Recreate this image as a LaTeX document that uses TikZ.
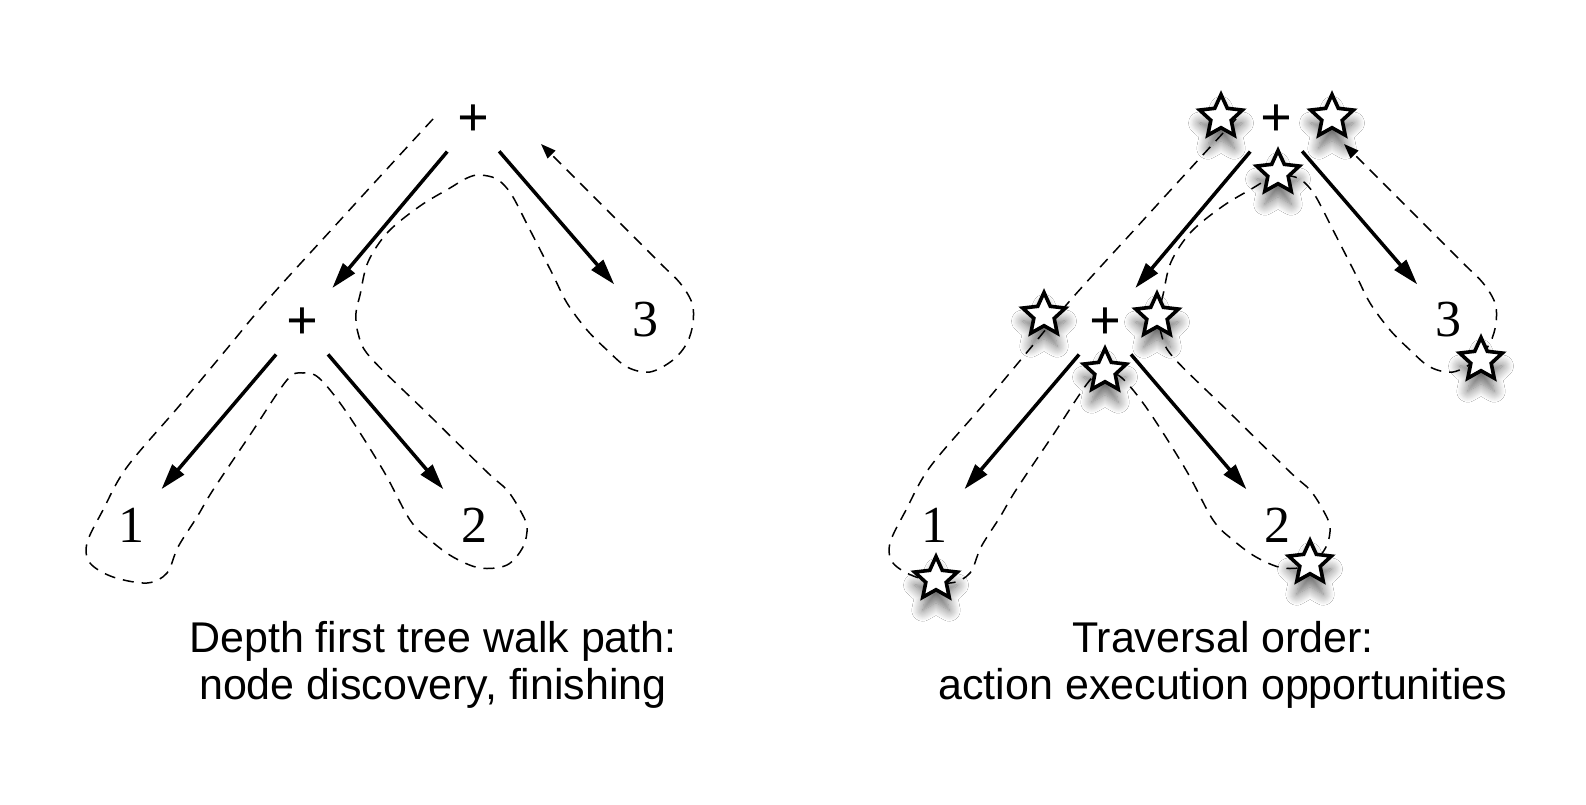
\documentclass[tikz,border=0pt]{standalone}
\usepackage{fontspec}
\setmainfont{Liberation Serif}
\newfontfamily\capfont{Liberation Sans}
\usetikzlibrary{arrows.meta,shapes.geometric,shadows.blur}
\tikzset{
  lbl/.style={font=\fontsize{52}{56}\selectfont, inner sep=0pt, outer sep=0pt},
  op/.style={font=\bfseries\fontsize{56}{60}\selectfont, inner sep=0pt, outer sep=0pt},
  edge/.style={line width=3.5pt, -{Triangle[length=26pt,width=15pt]}, shorten <=40pt, shorten >=47pt},
  walk/.style={line width=1.5pt, dash pattern=on 11pt off 8pt, -{Triangle[length=15pt,width=11pt]}},
  caption/.style={font=\capfont\fontsize{43}{47}\selectfont, align=center, inner sep=0pt},
  act/.style={star, star points=5, star point ratio=2.1, minimum size=45pt, inner sep=0pt,
    draw, line width=3.6pt, fill=white, line join=miter,
    blur shadow={shadow xshift=0pt, shadow yshift=-13pt, shadow blur radius=11pt, shadow blur steps=12, shadow opacity=60}},
}
\begin{document}
\begin{tikzpicture}[x=1pt,y=-1pt]
\useasboundingbox (0,0) rectangle (1586,804);
\fill[white] (0,0) rectangle (1586,804);
% dashed walk paths
\foreach \dx in {0,803}{
\begin{scope}[xshift=\dx pt]
\draw[walk] plot[smooth, tension=0.55] coordinates {
(433,119) (386,170) (333,228) (280,286) (253,317) (230,345) (180,405) (127,467)
(103,510) (87,543) (90,563) (113,577) (147,583) (167,573) (178,547) (197,517)
(213,490) (250,435) (287,380) (303,373) (319,378) (345,410) (383,470) (410,520)
(430,540) (453,557) (480,568) (507,565) (523,547) (527,527) (520,510) (507,490)
(487,472) (428,414) (370,357) (358,333) (356,313) (360,295) (368,262) (388,232)
(420,206) (450,188) (465,179) (477,175) (492,177) (502,183) (513,197) (530,230)
(552,273) (567,303) (587,330) (607,350) (627,367) (650,372) (673,360) (687,343)
(693,323) (692,303) (680,283) (660,263) (600,203) (541,144)};
\end{scope}
}
% left tree
\node[op] (lT) at (473,121) {+};
\node[op] (lM) at (302,324) {+};
\node[lbl] (l1) at (131,525) {1};
\node[lbl] (l2) at (474,525) {2};
\node[lbl] (l3) at (645,320) {3};
\draw[edge] (lT.center) -- (lM.center);
\draw[edge] (lT.center) -- (l3.center);
\draw[edge] (lM.center) -- (l1.center);
\draw[edge] (lM.center) -- (l2.center);
% right tree
\node[op] (rT) at (1276,121) {+};
\node[op] (rM) at (1105,324) {+};
\node[lbl] (r1) at (934,525) {1};
\node[lbl] (r2) at (1277,525) {2};
\node[lbl] (r3) at (1448,320) {3};
\draw[edge] (rT.center) -- (rM.center);
\draw[edge] (rT.center) -- (r3.center);
\draw[edge] (rM.center) -- (r1.center);
\draw[edge] (rM.center) -- (r2.center);
% action stars
\node[act] (sTl) at ([shift={(-55,-4)}]rT) {};
\node[act] (sTr) at ([shift={(56,-4)}]rT) {};
\node[act] (sTb) at ([shift={(2,52)}]rT) {};
\node[act] (sMl) at ([shift={(-61,-9)}]rM) {};
\node[act] (sMr) at ([shift={(52,-8)}]rM) {};
\node[act] (sMb) at ([shift={(0,47)}]rM) {};
\node[act] (s1) at ([shift={(2,54)}]r1) {};
\node[act] (s2) at ([shift={(33,38)}]r2) {};
\node[act] (s3) at ([shift={(33,40)}]r3) {};
% captions
\node[caption] (capL) at (433,665) {Depth first tree walk path:\\node discovery, finishing};
\node[caption] (capR) at (1223,665) {Traversal order:\\action execution opportunities};
\end{tikzpicture}
\end{document}
